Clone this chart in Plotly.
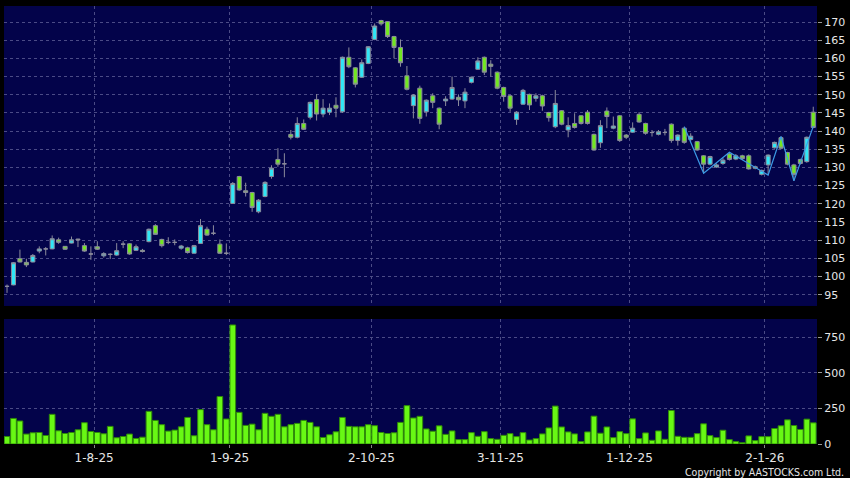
import pandas as pd
import plotly.graph_objects as go

# ---------------- data ----------------
holidays = ["2025-10-01", "2025-10-07", "2025-10-29", "2025-12-25", "2025-12-26", "2026-01-01"]
dates = [d for d in pd.bdate_range("2025-07-15", "2026-01-14") if d.strftime("%Y-%m-%d") not in holidays]

open_ = [97.3, 97.7, 104.9, 103.9, 104.0, 107.0, 107.6, 107.6, 110.1, 108.3,
         109.2, 110.3, 108.5, 106.2, 108.2, 105.7, 106.1, 105.9, 108.9, 109.0,
         107.2, 107.2, 109.6, 114.0, 110.2, 109.4, 109.4, 107.8, 107.9, 106.4,
         109.1, 113.0, 111.9, 108.9, 106.4, 120.1, 127.5, 123.6, 123.1, 117.8,
         122.0, 127.5, 132.2, 131.0, 139.1, 138.3, 142.1, 143.8, 148.7, 144.7,
         145.2, 147.1, 145.3, 160.3, 157.4, 154.8, 158.6, 165.2, 170.4, 170.1,
         166.0, 163.0, 155.2, 147.0, 151.8, 145.3, 149.7, 146.3, 148.3, 148.8,
         149.3, 148.3, 153.4, 157.0, 160.3, 158.4, 156.2, 152.0, 149.7, 143.2,
         147.4, 150.1, 149.0, 149.7, 145.1, 141.2, 145.6, 140.3, 142.1, 144.2,
         145.2, 139.1, 136.8, 145.5, 140.8, 144.2, 138.9, 139.7, 144.6, 142.1,
         139.6, 139.1, 139.6, 141.9, 137.4, 140.8, 137.7, 137.1, 133.2, 130.9,
         130.1, 131.1, 133.7, 132.3, 133.2, 133.2, 130.2, 128.1, 130.7, 135.4,
         138.2, 134.1, 130.7, 132.2, 131.6, 145.2]
high = [97.8, 104.0, 107.4, 104.9, 106.2, 108.3, 108.1, 111.3, 110.7, 108.4,
        111.0, 110.4, 109.2, 108.3, 109.7, 106.7, 106.4, 109.2, 109.7, 109.2,
        108.8, 107.6, 113.2, 114.4, 110.4, 110.8, 110.2, 108.7, 108.2, 108.7,
        115.8, 113.7, 114.1, 110.2, 109.1, 126.0, 127.7, 125.8, 123.3, 121.3,
        126.2, 130.6, 135.3, 133.9, 140.3, 143.8, 143.2, 148.1, 150.2, 148.8,
        147.6, 149.3, 160.5, 163.0, 157.6, 159.7, 163.4, 169.6, 170.6, 170.2,
        166.2, 165.2, 157.9, 150.2, 152.5, 148.7, 150.4, 146.5, 149.6, 155.0,
        150.1, 151.8, 155.0, 160.3, 160.5, 159.5, 156.4, 152.2, 150.0, 145.5,
        151.6, 150.3, 150.4, 150.0, 145.3, 151.3, 145.8, 143.8, 144.9, 144.4,
        145.8, 139.3, 143.0, 146.5, 144.0, 144.4, 139.2, 142.4, 145.2, 142.3,
        140.3, 140.3, 140.6, 142.1, 139.1, 141.2, 139.4, 137.3, 133.4, 133.2,
        131.1, 132.6, 134.2, 133.7, 133.5, 133.6, 130.5, 129.4, 133.6, 137.1,
        138.5, 134.3, 131.0, 132.4, 138.5, 146.7]
low = [95.5, 97.6, 103.9, 102.6, 103.9, 106.4, 105.8, 107.5, 109.0, 107.3,
       109.1, 108.1, 106.8, 104.6, 107.3, 105.2, 104.8, 105.7, 107.8, 106.0,
       107.0, 106.6, 109.4, 111.5, 108.0, 108.9, 108.6, 107.4, 106.3, 106.3,
       109.0, 111.2, 111.4, 106.3, 105.9, 120.0, 123.6, 122.0, 117.8, 117.4,
       121.8, 126.9, 130.2, 127.3, 137.7, 138.0, 140.3, 143.2, 142.9, 143.8,
       144.4, 143.8, 145.0, 157.3, 152.0, 154.6, 158.4, 165.0, 169.0, 165.6,
       160.0, 157.7, 151.2, 143.5, 142.0, 144.0, 146.3, 140.5, 146.9, 148.6,
       146.9, 146.3, 153.1, 156.8, 155.4, 155.0, 151.5, 148.1, 145.3, 141.7,
       147.2, 145.8, 148.1, 145.6, 142.6, 140.8, 141.6, 138.3, 140.7, 141.8,
       141.8, 134.6, 135.4, 140.8, 140.5, 137.0, 137.8, 139.5, 142.3, 139.0,
       138.5, 138.8, 138.8, 136.8, 136.0, 136.5, 137.2, 134.6, 128.4, 130.6,
       129.9, 130.7, 131.9, 132.0, 132.0, 129.4, 129.5, 127.8, 127.9, 135.2,
       135.0, 130.6, 126.3, 130.8, 131.3, 140.8]
close = [97.3, 103.8, 104.0, 103.2, 105.8, 107.6, 107.6, 110.4, 109.4, 107.5,
         110.1, 110.1, 107.0, 106.2, 107.5, 106.3, 106.1, 107.1, 108.9, 106.2,
         108.2, 106.9, 113.0, 111.6, 108.5, 109.4, 109.4, 108.4, 106.6, 108.5,
         114.0, 111.4, 111.9, 106.4, 106.4, 125.6, 123.8, 123.1, 119.0, 121.0,
         125.9, 129.8, 130.9, 131.0, 138.3, 142.1, 140.5, 147.9, 144.7, 146.3,
         146.3, 146.3, 160.3, 157.7, 152.9, 158.8, 163.2, 168.9, 169.5, 166.0,
         163.0, 158.8, 151.5, 149.9, 143.5, 148.5, 147.9, 141.9, 148.8, 152.0,
         148.6, 150.7, 154.8, 159.3, 156.2, 157.8, 151.8, 149.5, 146.3, 145.2,
         151.2, 147.2, 149.7, 146.9, 143.7, 147.6, 141.9, 141.5, 141.0, 142.1,
         142.1, 134.8, 141.5, 144.0, 141.4, 137.4, 138.3, 140.8, 142.5, 139.4,
         139.6, 139.8, 139.6, 137.4, 138.9, 136.9, 138.6, 134.8, 130.9, 133.0,
         130.7, 132.0, 132.2, 133.2, 132.4, 129.6, 129.8, 129.2, 133.4, 136.9,
         135.3, 130.9, 128.1, 131.1, 138.3, 141.0]
volume = [53, 180, 162, 70, 79, 81, 60, 209, 93, 74,
          81, 100, 150, 88, 81, 72, 124, 44, 53, 70,
          39, 48, 230, 166, 136, 91, 98, 121, 187, 58,
          242, 136, 100, 334, 176, 838, 223, 131, 140, 100,
          216, 195, 209, 121, 136, 145, 166, 152, 121, 46,
          65, 86, 187, 124, 121, 121, 136, 129, 81, 74,
          79, 152, 270, 183, 195, 106, 90, 128, 68, 92,
          31, 31, 80, 54, 87, 38, 33, 61, 73, 52,
          80, 28, 38, 71, 113, 267, 120, 85, 71, 17,
          85, 196, 76, 120, 45, 87, 73, 177, 38, 78,
          26, 92, 33, 236, 54, 47, 47, 73, 142, 59,
          45, 97, 31, 17, 9, 57, 24, 52, 52, 109,
          128, 170, 130, 102, 175, 149]

# zig-zag overlay (bar number, price)
zz_bar = [105, 108, 112, 118, 120, 122, 125]
zz_val = [141.2, 128.4, 134.2, 127.9, 138.5, 126.3, 141.3]

price_ticks = list(range(95, 171, 5))
vol_ticks = [0, 250, 500, 750]

# ---------------- figure ----------------
xs = list(range(len(dates)))
tick_pos, tick_txt = [], []
for i, d in enumerate(dates):
    if i > 0 and d.month != dates[i - 1].month:
        tick_pos.append(i + 0.5)
        tick_txt.append(f"{d.day}-{d.month}-{d.year % 100}")

NAVY = "#03034a"
GRID = "#4b4b86"
TXT = "#e6e6e6"
FONT = "DejaVu Sans"

fig = go.Figure()
fig.add_trace(go.Candlestick(
    x=xs, open=open_, high=high, low=low, close=close,
    increasing=dict(fillcolor="#30e6f6", line=dict(color="#8c8c9c", width=1)),
    decreasing=dict(fillcolor="#72e820", line=dict(color="#8c8c9c", width=1)),
    whiskerwidth=0, hoverinfo="skip", xaxis="x", yaxis="y", showlegend=False))
fig.add_trace(go.Scatter(
    x=zz_bar, y=zz_val, mode="lines", line=dict(color="#3b9be6", width=1.2),
    hoverinfo="skip", xaxis="x", yaxis="y", showlegend=False))
fig.add_trace(go.Bar(
    x=xs, y=volume, marker=dict(color="#68f814", line=dict(color="#2f8a08", width=1)),
    hoverinfo="skip", xaxis="x2", yaxis="y2", showlegend=False))

xr = [-0.47, 125.58]
common_x = dict(range=xr, showgrid=True, gridcolor=GRID, griddash="3px,3px", gridwidth=1,
                zeroline=False, tickvals=tick_pos, ticktext=tick_txt, showline=False,
                rangeslider=dict(visible=False), fixedrange=True)
fig.update_layout(
    width=850, height=478,
    margin=dict(l=4, r=33, t=6, b=34),
    paper_bgcolor="#000000", plot_bgcolor=NAVY,
    font=dict(family=FONT, color=TXT, size=12),
    bargap=0.12, boxgap=0.1,
    xaxis=dict(**common_x, anchor="y", showticklabels=False, ticks=""),
    xaxis2=dict(**common_x, anchor="y2", ticks="outside", ticklen=3, tickcolor="#888888",
                tickfont=dict(family=FONT, size=12, color=TXT)),
    yaxis=dict(domain=[0.3151, 1], range=[91.9, 174.4], side="right", tickvals=price_ticks,
               showgrid=True, gridcolor=GRID, griddash="3px,3px", zeroline=False,
               ticks="outside", ticklen=4, tickcolor="#999999",
               tickfont=dict(family=FONT, size=11, color=TXT), fixedrange=True),
    yaxis2=dict(domain=[0, 0.2854], range=[0, 880], side="right", tickvals=vol_ticks,
                showgrid=True, gridcolor=GRID, griddash="3px,3px", zeroline=False,
                ticks="outside", ticklen=4, tickcolor="#999999",
                tickfont=dict(family=FONT, size=11, color=TXT), fixedrange=True),
    annotations=[dict(text="Copyright by AASTOCKS.com Ltd.", xref="paper", yref="paper",
                      x=1.0357, y=-0.0645, xanchor="right", yanchor="middle", showarrow=False,
                      font=dict(family="DejaVu Sans Condensed, DejaVu Sans", size=10.5, color=TXT))],
)

fig.write_html("out.html", config={"displayModeBar": False},
               post_script="document.body.style.margin='0';document.body.style.background='#000';")
